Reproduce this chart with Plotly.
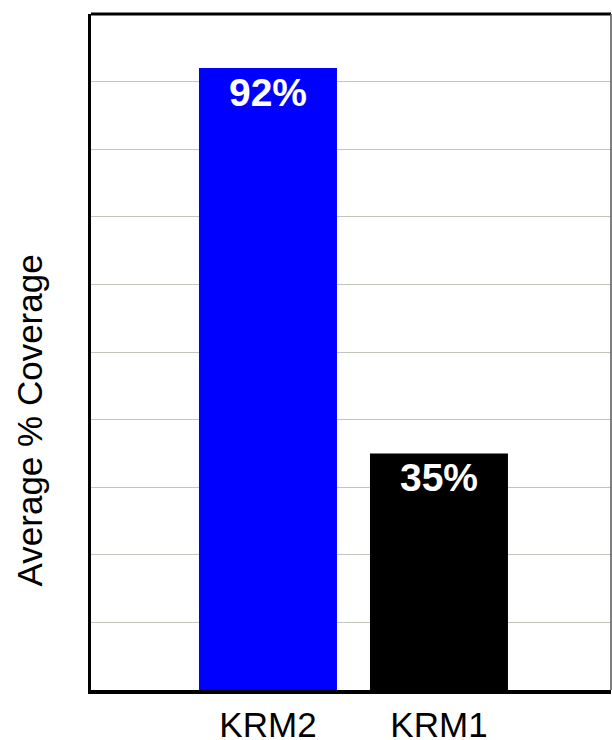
import plotly.graph_objects as go

categories = ["KRM2", "KRM1"]
values = [92, 35]
labels = ["92%", "35%"]
colors = ["#0000FF", "#000000"]

fig = go.Figure()
fig.add_trace(go.Bar(
    x=categories, y=values, width=0.807,
    marker=dict(color=colors, line=dict(width=0)),
    text=labels, textposition="inside", insidetextanchor="end",
    textangle=0, constraintext="none",
    textfont=dict(family="Liberation Sans, Arial", size=39, color="white", weight="bold"),
    hoverinfo="skip",
))

fig.update_layout(
    width=612, height=740,
    margin=dict(l=91, r=1, t=14, b=50),
    paper_bgcolor="white", plot_bgcolor="white",
    showlegend=False,
    font=dict(family="Liberation Sans, Arial", color="black"),
    xaxis=dict(
        range=[-1.035, 2.006], showgrid=False, automargin=False,
        showline=True, linecolor="black", linewidth=4,
        ticks="outside", ticklen=1, tickcolor="rgba(0,0,0,0)",
        tickfont=dict(size=35, color="black"),
    ),
    yaxis=dict(
        range=[0, 100], dtick=10, showgrid=True, gridcolor="#c4c4bc", gridwidth=1,
        showticklabels=False, zeroline=False, automargin=False,
        showline=True, linecolor="black", linewidth=3, ticks="",
    ),
    shapes=[
        dict(type="line", xref="paper", yref="paper", x0=0, x1=1, y0=1, y1=1,
             line=dict(color="black", width=3)),
        dict(type="line", xref="paper", yref="paper", x0=1, x1=1, y0=0, y1=1,
             line=dict(color="#555555", width=1.5)),
    ],
    annotations=[
        dict(text="Average % Coverage", xref="paper", yref="paper",
             x=-0.119, y=0.399, xanchor="center", yanchor="middle",
             textangle=-90, showarrow=False,
             font=dict(size=35, color="black", family="Liberation Sans, Arial")),
    ],
)

fig.write_html("out.html", config={"displayModeBar": False},
               post_script="document.body.style.margin='0';document.body.style.overflow='hidden';")
